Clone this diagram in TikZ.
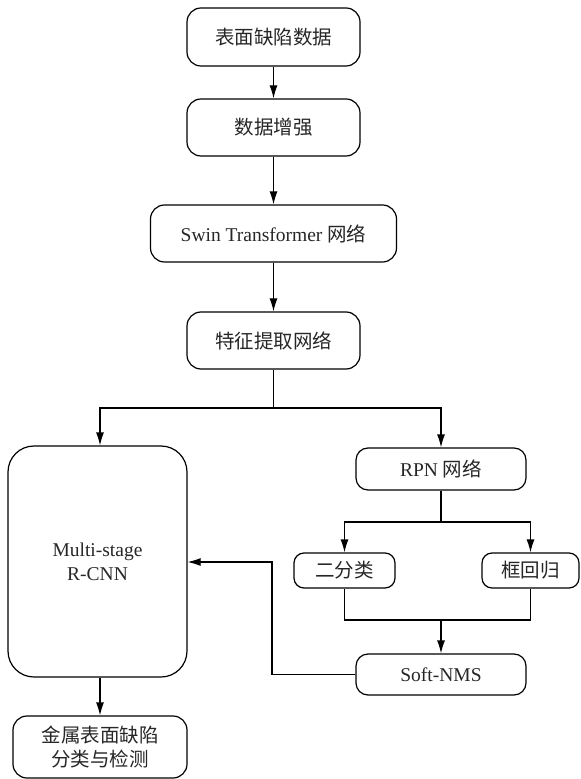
\documentclass[tikz,border=0pt]{standalone}
\usepackage{fontspec}
\setmainfont{Liberation Serif}
\newfontfamily\cjk{Noto Sans CJK SC}
\usetikzlibrary{arrows.meta,calc}
\begin{document}
\begin{tikzpicture}[x=0.5pt,y=-0.5pt,
  box/.style={draw, line width=0.6pt, rounded corners=7pt, align=center, inner sep=0pt,
    font=\fontsize{9.75}{12}\selectfont, text=black!85},
  arr/.style={-{Latex[length=6.5pt,width=4pt]}, line width=0.6pt},
  ln/.style={line width=0.6pt}]
\useasboundingbox (0,0) rectangle (580,779);
\node[box, minimum width=86.5pt, minimum height=29pt] (n1) at (273.5,37) {\cjk 表面缺陷数据};
\node[box, minimum width=86.5pt, minimum height=28.5pt] (n2) at (273.5,127.5) {\cjk 数据增强};
\node[box, minimum width=123pt, minimum height=28.5pt] (n3) at (273.5,233.5) {Swin Transformer {\cjk 网络}};
\node[box, minimum width=86.5pt, minimum height=28.5pt] (n4) at (273.5,340.5) {\cjk 特征提取网络};
\node[box, rounded corners=13pt, minimum width=89.5pt, minimum height=115.5pt] (ms) at (97.5,561.5) {Multi-stage\\R-CNN};
\node[box, rounded corners=6pt, minimum width=85pt, minimum height=21pt] (rpn) at (441,469) {RPN {\cjk 网络}};
\node[box, rounded corners=5pt, minimum width=50.5pt, minimum height=17.5pt] (cls) at (344.5,570.5) {\cjk 二分类};
\node[box, rounded corners=5pt, minimum width=48.5pt, minimum height=17.5pt] (reg) at (530.5,570.5) {\cjk 框回归};
\node[box, rounded corners=6pt, minimum width=85pt, minimum height=20.5pt] (soft) at (441,674.5) {Soft-NMS};
\node[box, rounded corners=7pt, minimum width=87pt, minimum height=31pt] (out) at (100,747) {\cjk 金属表面缺陷\\\cjk 分类与检测};
\coordinate (split) at (273.5,408);
\coordinate (split2) at (441,522);
\coordinate (mrg) at (441,620);
\coordinate (fb) at (272,562);
\draw[arr] (n1) -- (n2);
\draw[arr] (n2) -- (n3);
\draw[arr] (n3) -- (n4);
\draw[ln] (n4.south) -- (split);
\draw[arr] (split) -| (ms.north -| out.north);
\draw[arr] (split) -| (rpn.north);
\draw[ln] (rpn.south) -- (split2);
\draw[arr] (split2) -| (cls.north);
\draw[arr] (split2) -| (reg.north);
\draw[ln] (cls.south) |- (mrg) -| (reg.south);
\draw[arr] (mrg) -- (soft.north);
\draw[arr] (soft.west) -| (fb) -- (ms.east |- fb);
\draw[arr] (out.north |- ms.south) -- (out.north);
\end{tikzpicture}
\end{document}
